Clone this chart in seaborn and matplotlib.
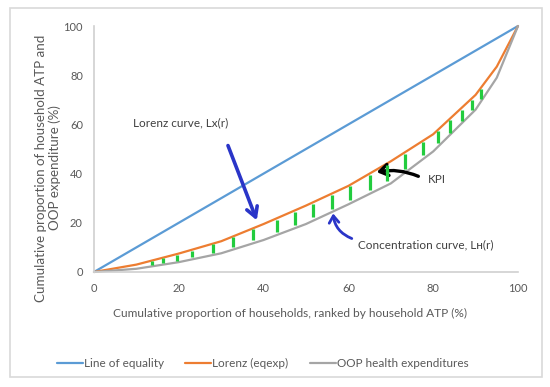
import matplotlib
matplotlib.use("Agg")
import matplotlib.pyplot as plt
from matplotlib.patches import Rectangle
import seaborn as sns
import pandas as pd

# cumulative share of households (%)
rank = [0, 10, 20, 30, 40, 50, 60, 70, 80, 90, 95, 100]
equality = [0, 10, 20, 30, 40, 50, 60, 70, 80, 90, 95, 100]
lorenz = [0, 3, 7.5, 12.5, 19.5, 27, 35, 45, 56, 72, 83.5, 100]
oop = [0, 1.3, 4, 7.6, 13, 19.5, 27.5, 36, 49, 66, 79, 100]
series_names = ["Line of equality", "Lorenz (eqexp)", "OOP health expenditures"]

# hand-drawn green hatch marks between the two curves
dash_x = [13.6, 16.3, 19.6, 23, 28.1, 32.9, 37.6, 43.1, 47.4, 51.7, 56.1,
          60.4, 65.1, 69.2, 73.3, 77.7, 81.2, 84, 86.7, 89.1, 91.3]
dash_lo = [3.0, 3.6, 4.6, 5.9, 7.8, 10.2, 12.8, 16.3, 19.3, 22.5, 25.8,
           29.4, 33.5, 37.1, 42.0, 47.4, 52.5, 56.6, 61.3, 65.8, 70.5]
dash_hi = [4.5, 5.6, 7.0, 8.7, 11.3, 14.1, 17.3, 21.2, 24.4, 27.8, 31.3,
           34.8, 39.4, 43.5, 47.9, 52.8, 57.2, 61.6, 65.9, 69.8, 74.2]

df = pd.DataFrame({
    "rank": rank * 3,
    "value": equality + lorenz + oop,
    "series": [series_names[0]] * len(rank) + [series_names[1]] * len(rank)
              + [series_names[2]] * len(rank),
})

sns.set_style("white")
plt.rcParams['font.family'] = ['Lato', 'DejaVu Sans']

fig = plt.figure(figsize=(5.5, 3.87), dpi=100)
ax = fig.add_axes([0.1709, 0.2972, 0.7709, 0.6356])

palette = {series_names[0]: '#5b9bd5', series_names[1]: '#ed7d31',
           series_names[2]: '#a5a5a5'}
sns.lineplot(data=df, x="rank", y="value", hue="series", palette=palette,
             linewidth=1.6, ax=ax, legend=True, clip_on=False)

ax.vlines(dash_x, dash_lo, dash_hi, colors='#22cc3e', linewidth=2.3, zorder=5)

ax.set_xlim(0, 100)
ax.set_ylim(0, 100)
ax.set_xticks([0, 20, 40, 60, 80, 100])
ax.set_yticks([0, 20, 40, 60, 80, 100])
ax.tick_params(length=0, labelsize=8, colors='#595959', pad=8)
for s in ['top', 'right']:
    ax.spines[s].set_visible(False)
for s in ['left', 'bottom']:
    ax.spines[s].set_color('#d0d0d0')
    ax.spines[s].set_linewidth(1.2)

ax.set_xlabel("")
ax.set_ylabel("")
fig.text(290 / 550, 1 - 313 / 387,
         "Cumulative proportion of households, ranked by household ATP (%)",
         ha='center', va='center', fontsize=8.6, color='#595959')
fig.text(48 / 550, 1 - 168 / 387,
         "Cumulative proportion of household ATP and\nOOP expenditure (%)",
         rotation=90, ha='center', va='center', multialignment='center',
         fontsize=9.6, color='#595959', linespacing=1.05)

leg = ax.legend(loc='upper center', bbox_to_anchor=(0.398, -0.305), ncol=3,
                frameon=False, fontsize=8.5, handlelength=2.2, handletextpad=0.1,
                columnspacing=1.8)
for t in leg.get_texts():
    t.set_color('#595959')

# annotations
ax.text(9.2, 60.7, "Lorenz curve, Lx(r)", fontsize=8.5, color='#404040',
        va='center', ha='left')
ax.text(78.7, 37.7, "KPI", fontsize=8.5, color='#404040', va='center', ha='left')
ax.text(62.2, 10.9, "Concentration curve, L\u029c(r)", fontsize=8.5,
        color='#404040', va='center', ha='left')

ax.annotate("", xy=(38.4, 21), xytext=(31.6, 51.4),
            arrowprops=dict(arrowstyle='->,head_length=0.7,head_width=0.4',
                            color='#2a35c8', lw=2.6, shrinkA=0, shrinkB=0))
ax.annotate("", xy=(56.4, 23.8), xytext=(60.8, 13.6),
            arrowprops=dict(arrowstyle='->,head_length=0.5,head_width=0.35',
                            color='#2a35c8', lw=2.0, shrinkA=0, shrinkB=0,
                            connectionstyle='arc3,rad=-0.3'))
ax.annotate("", xy=(66.7, 40.6), xytext=(76.5, 38.9),
            arrowprops=dict(arrowstyle='->,head_length=0.6,head_width=0.4',
                            color='black', lw=2.4, shrinkA=0, shrinkB=0,
                            connectionstyle='arc3,rad=0.15'))

fig.patches.append(Rectangle((0.018, 0.026), 0.967, 0.953, transform=fig.transFigure,
                             fill=False, edgecolor='#d9d9d9', linewidth=1.2))

fig.savefig("out.png", dpi=100)
